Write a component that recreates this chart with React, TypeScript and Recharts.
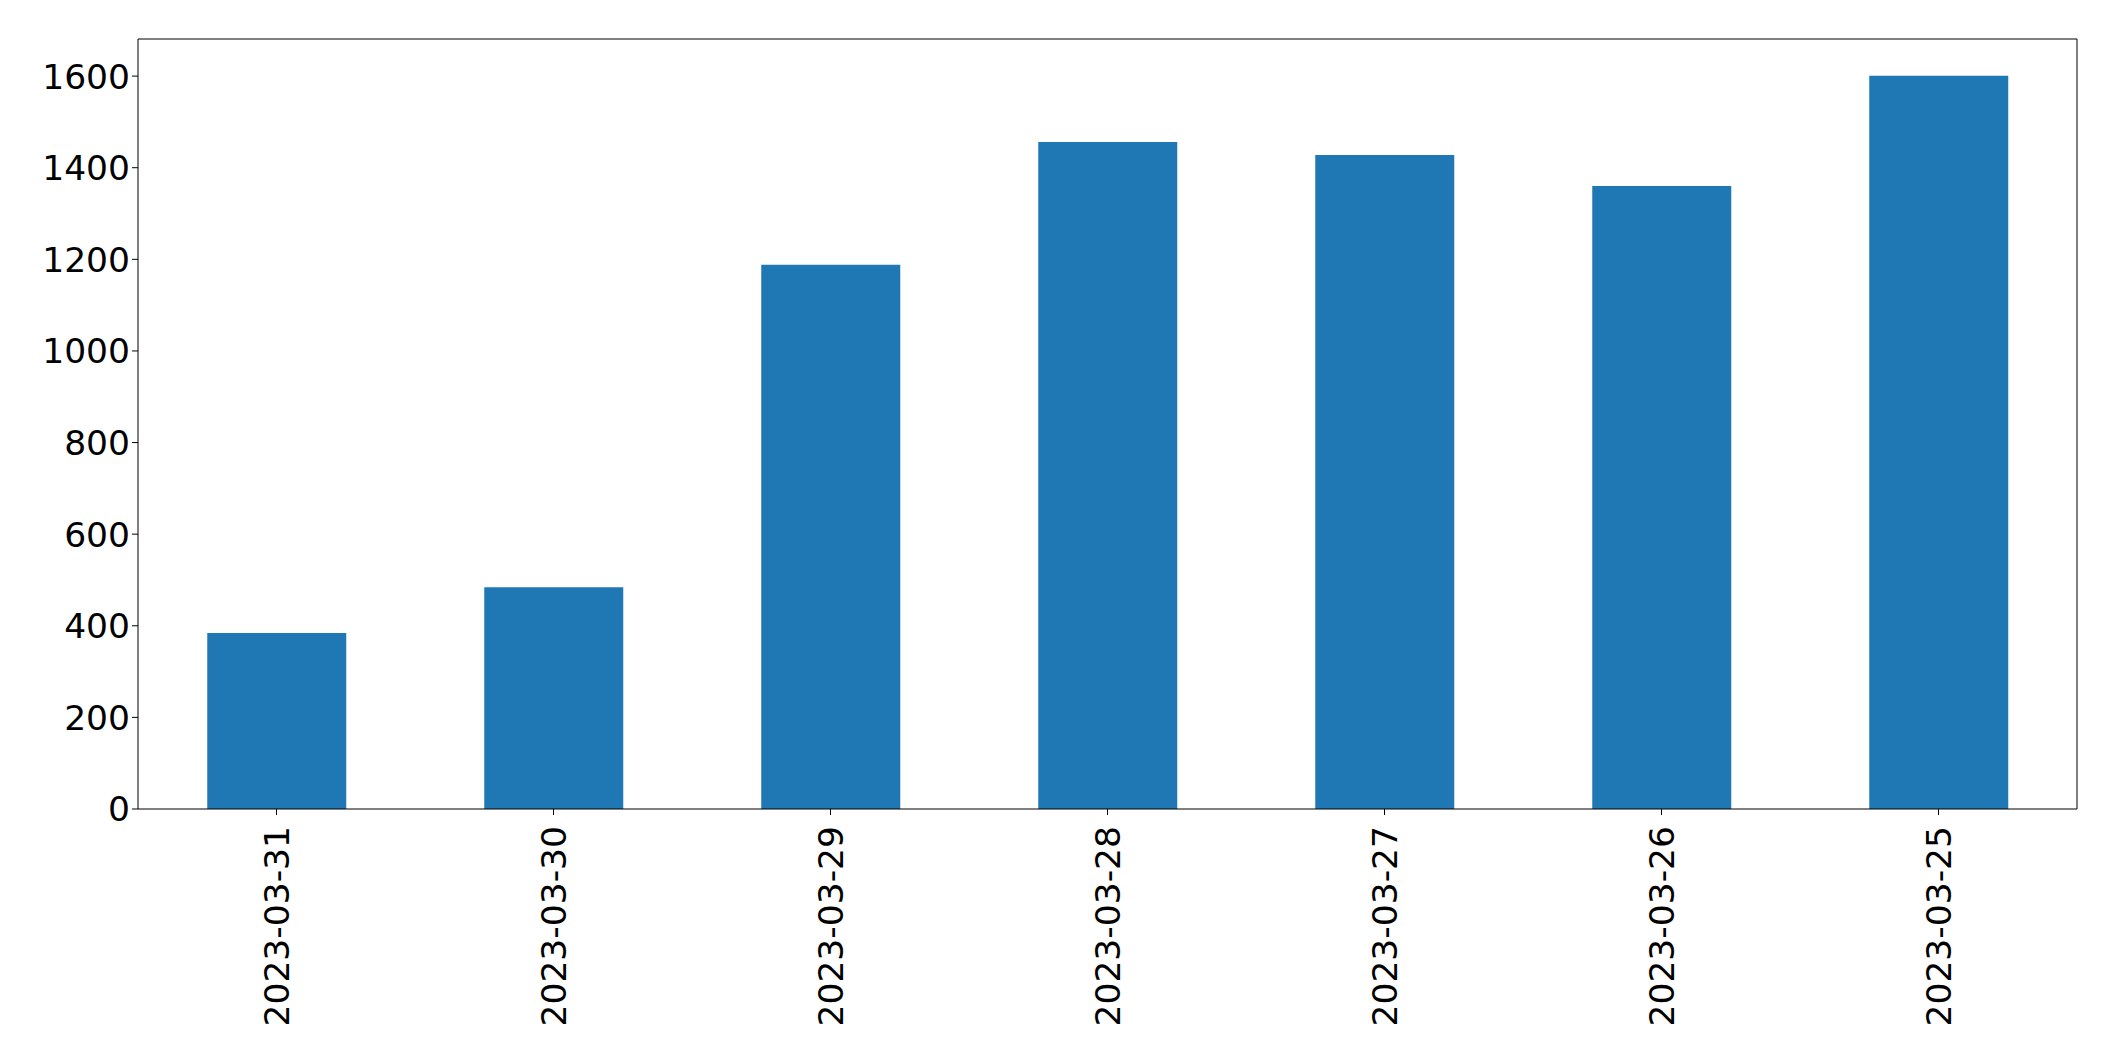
import { BarChart, Bar, XAxis, YAxis, ReferenceLine } from 'recharts';

const dates = [
  '2023-03-31',
  '2023-03-30',
  '2023-03-29',
  '2023-03-28',
  '2023-03-27',
  '2023-03-26',
  '2023-03-25',
];
const counts = [384, 484, 1188, 1456, 1428, 1360, 1601];
const yTicks = [0, 200, 400, 600, 800, 1000, 1200, 1400, 1600];
const yMax = 1681;

const data = dates.map((date, i) => ({ date, count: counts[i] }));

const FONT = '"DejaVu Sans", sans-serif';

function DateTick(props: any) {
  const { x, y, payload } = props;
  return (
    <text
      x={x}
      y={y + 9}
      transform={`rotate(-90, ${x}, ${y + 9})`}
      textAnchor="end"
      dy="0.36em"
      fontFamily={FONT}
      fontSize={34.5}
      fill="#000"
    >
      {payload.value}
    </text>
  );
}

function ValueTick(props: any) {
  const { x, y, payload } = props;
  return (
    <text
      x={x}
      y={y}
      textAnchor="end"
      dy="0.36em"
      fontFamily={FONT}
      fontSize={34.5}
      fill="#000"
    >
      {payload.value}
    </text>
  );
}

export default function App() {
  return (
    <div style={{ position: 'absolute', left: 0, top: 0, background: '#fff' }}>
      <BarChart
        width={2115}
        height={1061}
        data={data}
        margin={{ top: 39, right: 38, left: 0, bottom: 0 }}
        barCategoryGap="25%"
      >
        <XAxis
          dataKey="date"
          height={252}
          interval={0}
          tick={<DateTick />}
          tickLine={{ stroke: '#000', strokeWidth: 1 }}
          tickSize={6}
          axisLine={{ stroke: '#000', strokeWidth: 1 }}
        />
        <YAxis
          width={138}
          domain={[0, yMax]}
          ticks={yTicks}
          interval={0}
          allowDataOverflow
          tick={<ValueTick />}
          tickLine={{ stroke: '#000', strokeWidth: 1 }}
          tickSize={6}
          axisLine={{ stroke: '#000', strokeWidth: 1 }}
        />
        <Bar dataKey="count" fill="#1f77b4" isAnimationActive={false} />
        {/* top and right frame of the plot box */}
        <ReferenceLine y={yMax} stroke="#000" strokeWidth={1} ifOverflow="visible" />
        <ReferenceLine
          x={dates[dates.length - 1]}
          position="end"
          stroke="#000"
          strokeWidth={1}
          ifOverflow="visible"
        />
      </BarChart>
    </div>
  );
}
